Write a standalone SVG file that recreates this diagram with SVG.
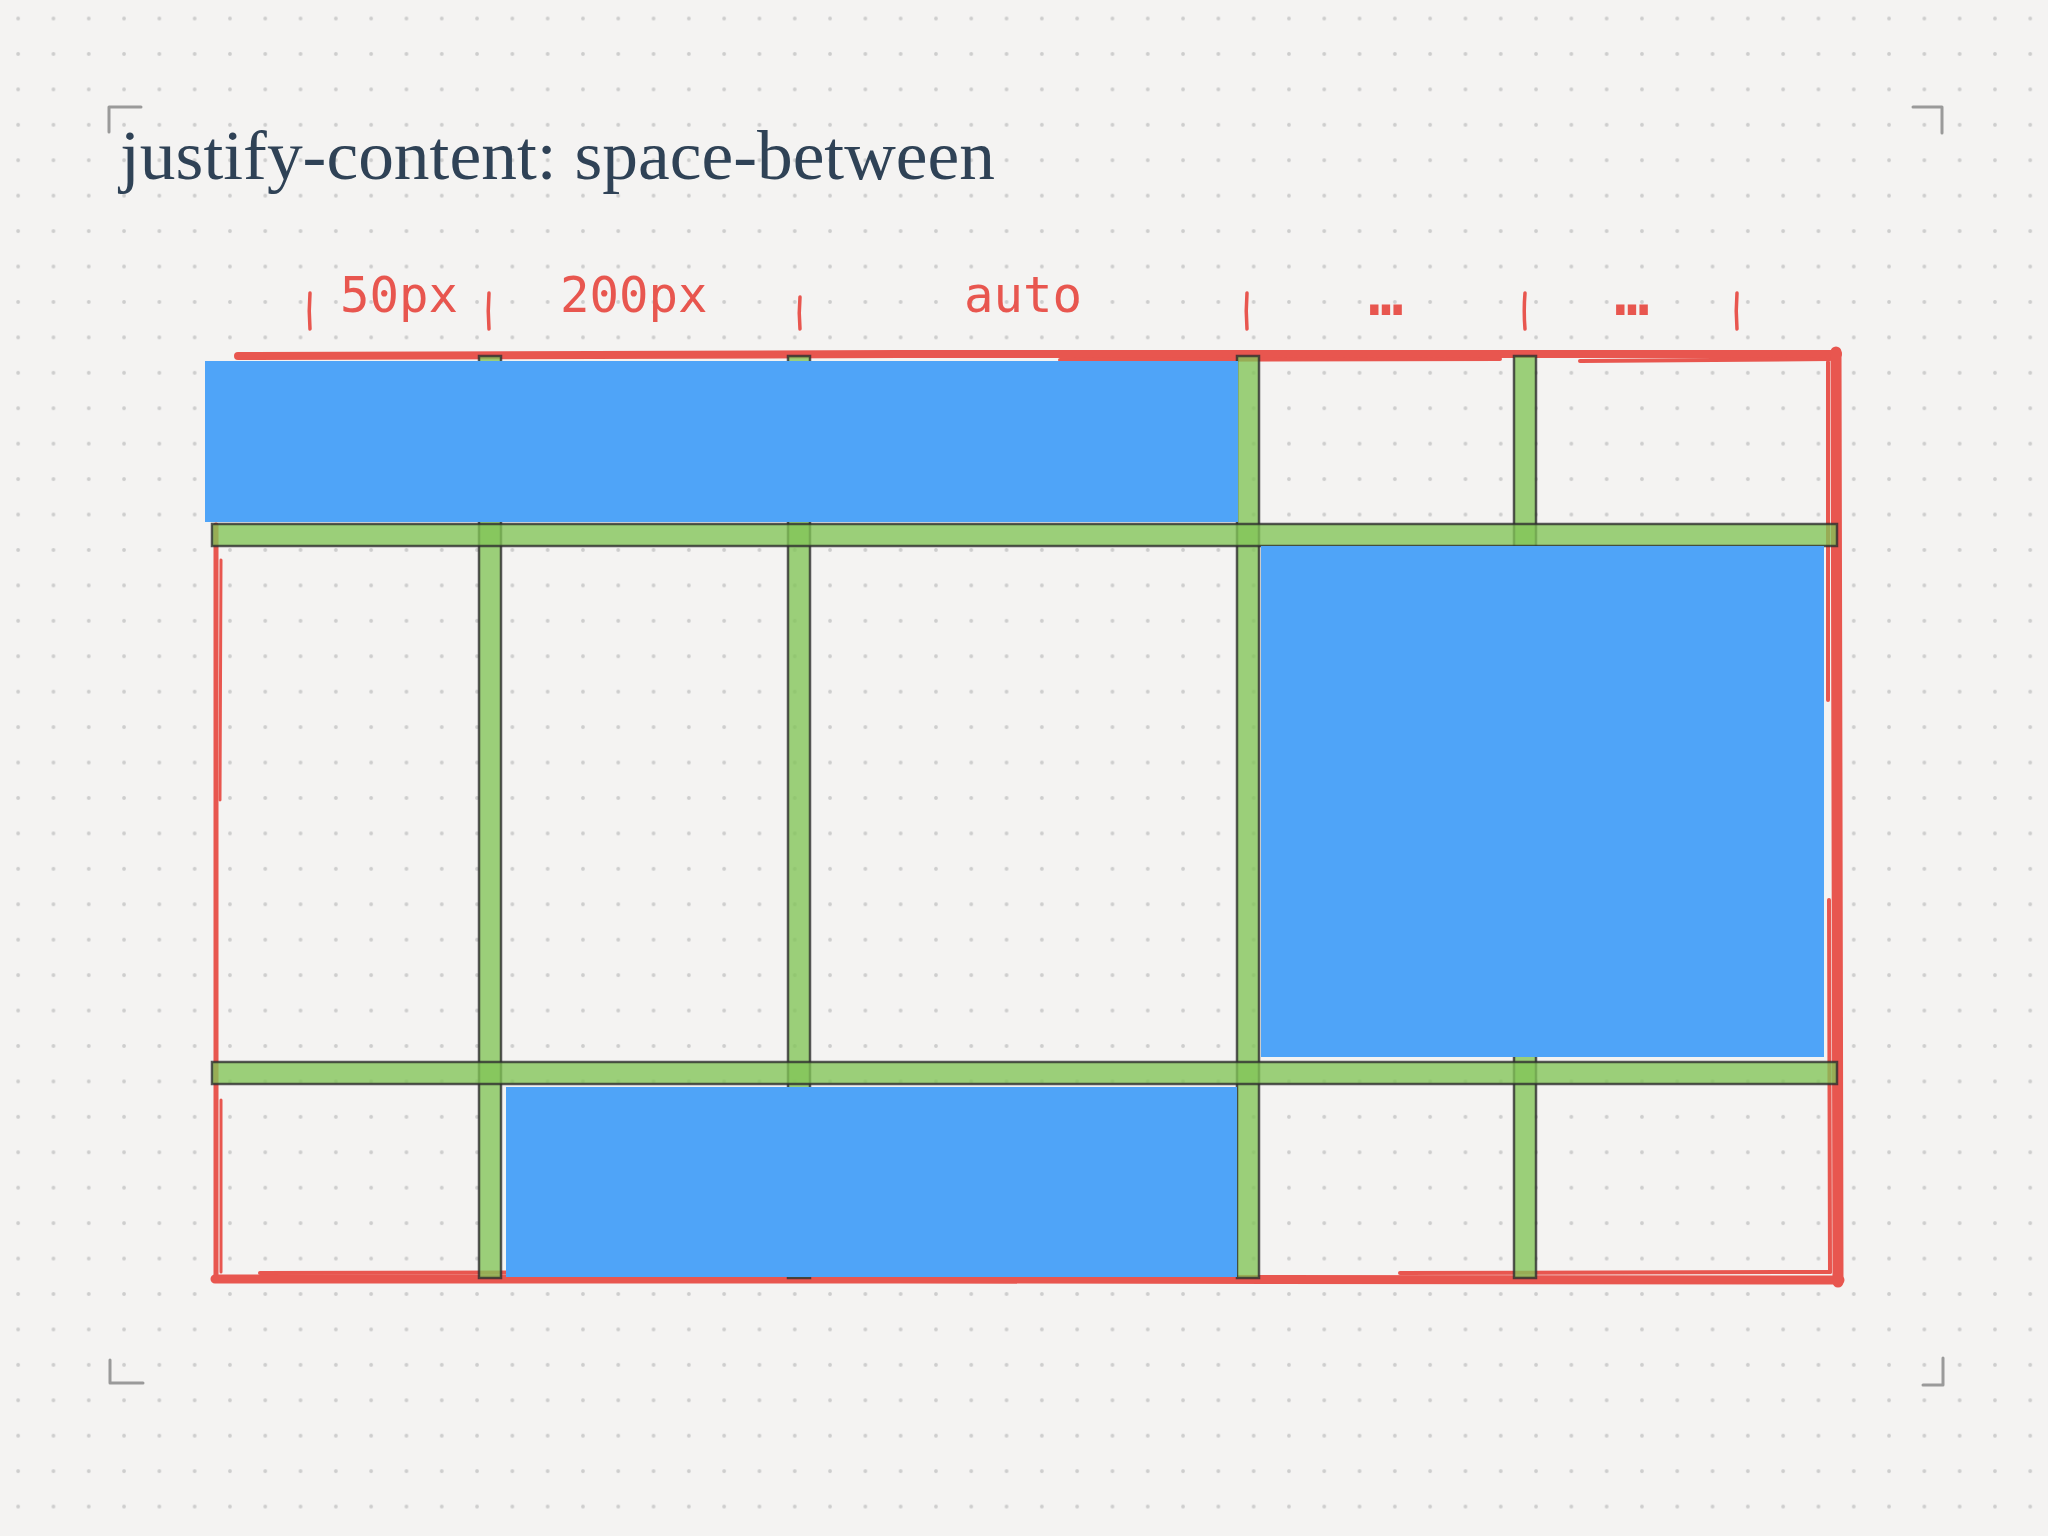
<svg xmlns="http://www.w3.org/2000/svg" width="2048" height="1536" viewBox="0 0 2048 1536">
  <defs>
    <pattern id="dots" x="0.5" y="0.8" width="35.3" height="35.43" patternUnits="userSpaceOnUse">
      <circle cx="17.65" cy="17.7" r="1.9" fill="#cdcdcd"/>
    </pattern>
  </defs>
  <style>
    .corner { fill: none; stroke: #9a9a9a; stroke-width: 3; stroke-linecap: round; stroke-linejoin: round; }
    .title { font-family: "Liberation Serif", "DejaVu Serif", serif; font-size: 70px; fill: #2f4256; }
    .lbl { font-family: "DejaVu Sans Mono", "Liberation Mono", monospace; font-size: 49px; fill: #e8564f; }
    .dots { font-family: "DejaVu Sans Mono", "Liberation Mono", monospace; font-size: 58px; font-weight: bold; fill: #e8564f; }
    .tick { fill: none; stroke: #e8564f; stroke-width: 3.5; stroke-linecap: round; }
    .red { fill: none; stroke: #e8564f; stroke-linecap: round; stroke-linejoin: round; }
    .track { fill: #82c457; fill-opacity: 0.78; stroke: #2e2e2e; stroke-opacity: 0.8; stroke-width: 2.5; }
    .item { fill: #4fa4f8; }
  </style>

  <rect width="2048" height="1536" fill="#f4f3f2"/>
  <rect width="2048" height="1536" fill="url(#dots)"/>

  <g id="corners">
    <path class="corner" d="M141,107 L109,107 L109,132"/>
    <path class="corner" d="M1913,107 L1942,107 L1942,133"/>
    <path class="corner" d="M110,1360 L110,1383 L143,1383"/>
    <path class="corner" d="M1943,1358 L1943,1385 L1923,1385"/>
  </g>

  <g id="title">
    <text class="title" x="120" y="179" textLength="875" lengthAdjust="spacingAndGlyphs">justify-content: space-between</text>
  </g>

  <g id="column-labels">
    <path class="tick" d="M310,293 Q308.5,311 310,329"/>
    <path class="tick" d="M489,293 Q487.5,311 489,329"/>
    <path class="tick" d="M800,297 Q798.5,313 800,329"/>
    <path class="tick" d="M1247,293 Q1245.5,311 1247,329"/>
    <path class="tick" d="M1525,293 Q1523.5,311 1525,329"/>
    <path class="tick" d="M1737,293 Q1735.5,311 1737,329"/>
    <text class="lbl" x="340" y="312">50px</text>
    <text class="lbl" x="560" y="312">200px</text>
    <text class="lbl" x="964" y="312">auto</text>
    <text class="dots" x="1386" y="315" text-anchor="middle">…</text>
    <text class="dots" x="1632" y="315" text-anchor="middle">…</text>
  </g>

  <g id="container">
    <path class="red" stroke-width="8" d="M238,356 L900,354 L1838,354"/>
    <path class="red" stroke-width="4" d="M1060,360 L1500,359 M1580,361 L1830,359"/>
    <path class="red" stroke-width="11" d="M1836,352 L1837,800 L1838,1282"/>
    <path class="red" stroke-width="4" d="M1828,362 L1828,700 M1829,900 L1830,1272"/>
    <path class="red" stroke-width="9" d="M215,1279 L900,1279 L1840,1280"/>
    <path class="red" stroke-width="4" d="M260,1273 L700,1272 M1400,1273 L1830,1272"/>
    <path class="red" stroke-width="5" d="M216,525 L216,900 L216,1280"/>
    <path class="red" stroke-width="3" d="M221,560 L220,800 M221,1100 L221,1272"/>
  </g>

  <g id="grid-tracks">
    <rect class="track" x="479" y="356" width="22" height="922"/>
    <rect class="track" x="788" y="356" width="22" height="922"/>
    <rect class="track" x="1237" y="356" width="22" height="922"/>
    <rect class="track" x="1514" y="356" width="22" height="922"/>
    <rect class="track" x="212" y="524" width="1625" height="22"/>
    <rect class="track" x="212" y="1062" width="1625" height="22"/>
  </g>

  <g id="item-1">
    <rect class="item" x="205" y="361" width="1033" height="161"/>
  </g>
  <g id="item-2">
    <rect class="item" x="1261" y="546" width="563" height="511"/>
  </g>
  <g id="item-3">
    <rect class="item" x="506" y="1087" width="731" height="190"/>
  </g>
</svg>
